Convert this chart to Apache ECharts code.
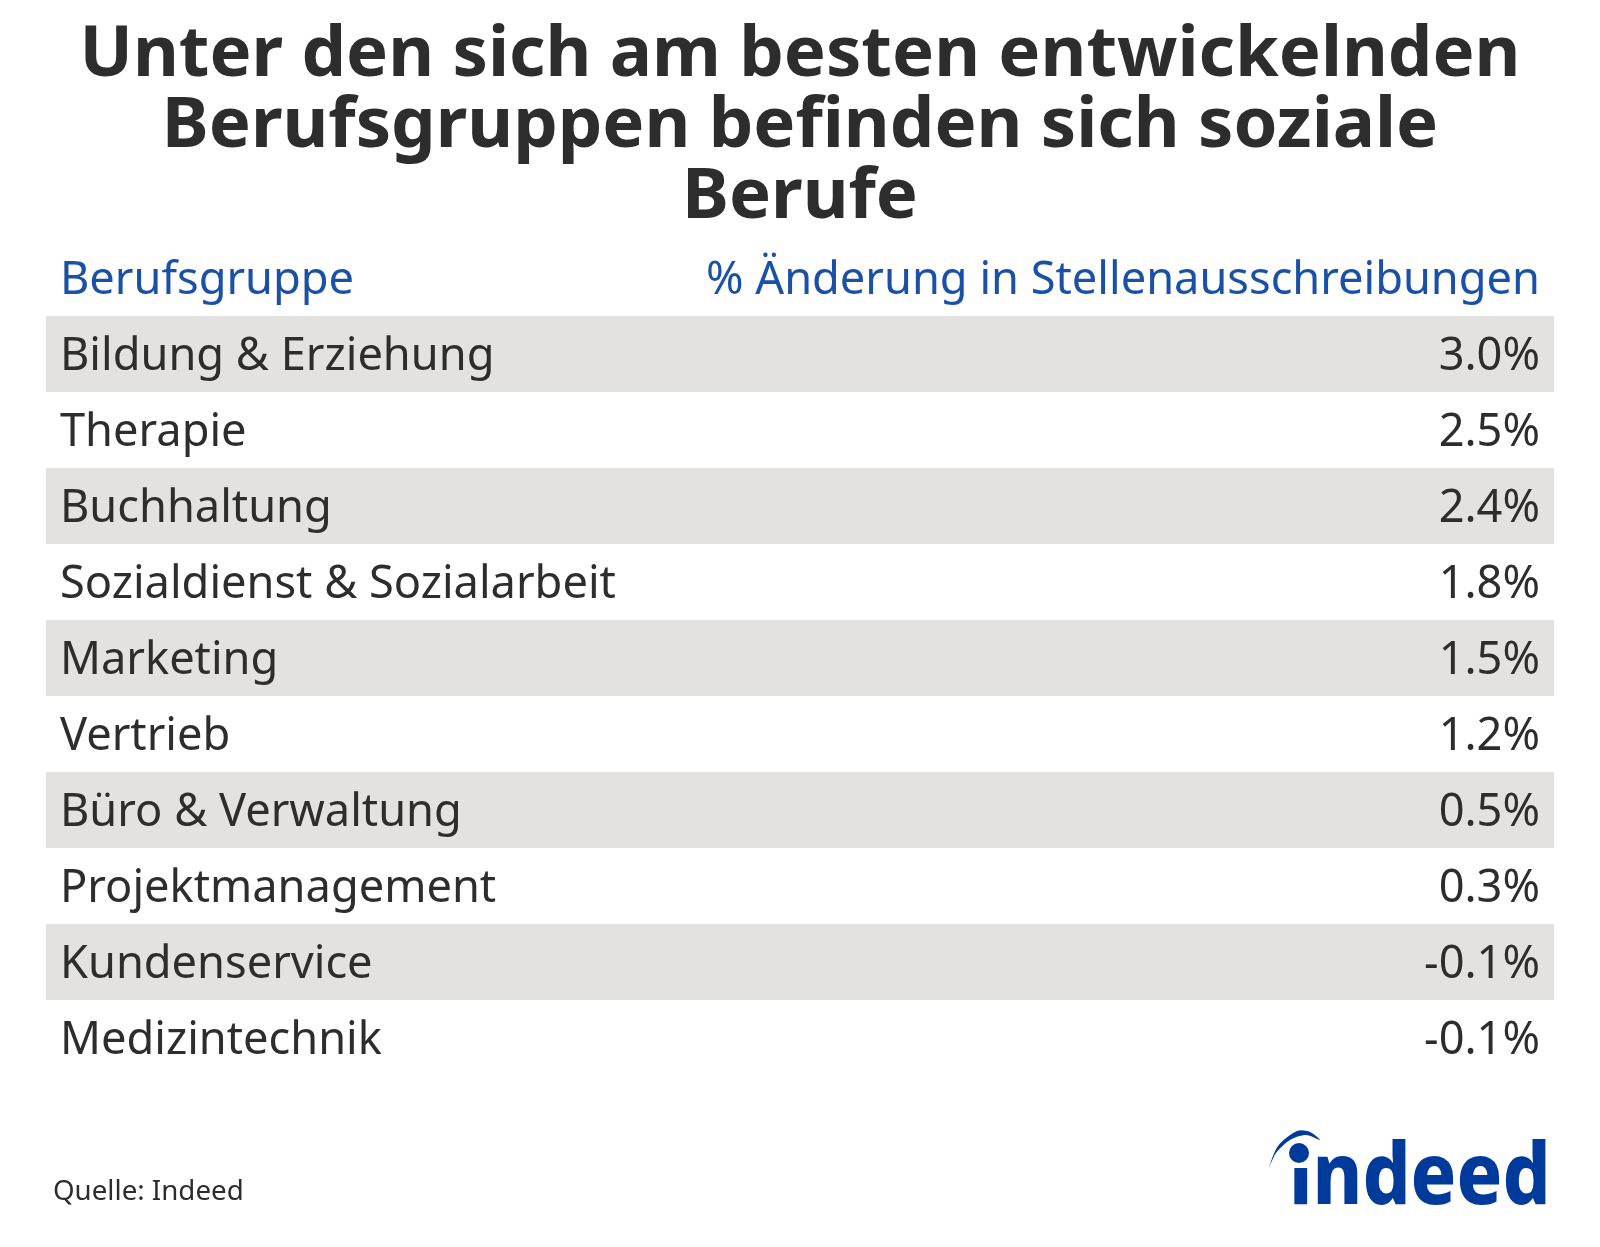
<!DOCTYPE html>
<html>
<head>
<meta charset="utf-8">
<script src="https://cdn.jsdelivr.net/npm/echarts@6/dist/echarts.min.js"></script>
<style>
  html, body { margin: 0; padding: 0; background: #fff; }
  #main { width: 1600px; height: 1247px; }
</style>
</head>
<body>
<div id="main"></div>
<script>
// table content
var titleLines = ['Unter den sich am besten entwickelnden', 'Berufsgruppen befinden sich soziale', 'Berufe'];
var headers = ['Berufsgruppe', '% Änderung in Stellenausschreibungen'];
var categories = ['Bildung & Erziehung', 'Therapie', 'Buchhaltung', 'Sozialdienst & Sozialarbeit', 'Marketing',
  'Vertrieb', 'Büro & Verwaltung', 'Projektmanagement', 'Kundenservice', 'Medizintechnik'];
var changes = [3.0, 2.5, 2.4, 1.8, 1.5, 1.2, 0.5, 0.3, -0.1, -0.1];
var source = 'Quelle: Indeed';
var logoText = 'indeed';

var font = '"Noto Sans", sans-serif';
var dark = '#2d2d2d';
var blue = '#1a50a6';
var logoBlue = '#003a9b';

var chart = echarts.init(document.getElementById('main'));

chart.setOption({
  backgroundColor: '#fff',
  animation: false,
  title: [
    {
      text: titleLines.join('\n'), left: 795, top: 15, textAlign: 'center',
      textStyle: { fontFamily: font, fontSize: 70.6, fontWeight: 700, color: dark, lineHeight: 71 }
    },
    {
      text: headers[0], left: 46, top: 253, padding: [0, 0, 0, 14],
      textStyle: { fontFamily: font, fontSize: 45.2, fontWeight: 400, color: blue, lineHeight: 56 }
    },
    {
      text: headers[1], right: 46, top: 253, padding: [0, 14, 0, 0],
      textStyle: { fontFamily: font, fontSize: 45.2, fontWeight: 400, color: blue, lineHeight: 56 }
    },
    {
      text: source, left: 53, top: 1174, padding: 0,
      textStyle: { fontFamily: font, fontSize: 27.7, fontWeight: 400, color: dark, lineHeight: 36 }
    }
  ],
  grid: { left: 46, right: 46, top: 316, height: 760, containLabel: false },
  xAxis: { type: 'value', min: 0, max: 1, show: false },
  yAxis: {
    type: 'category',
    inverse: true,
    data: categories,
    axisLine: { show: false },
    axisTick: { show: false },
    splitLine: { show: false },
    splitArea: { show: true, areaStyle: { color: ['#e3e2e0', '#ffffff'] } },
    axisLabel: {
      inside: true, margin: 14, interval: 0, verticalAlign: 'top', lineHeight: 6,
      fontFamily: font, fontSize: 45.2, color: dark
    }
  },
  series: [{
    type: 'scatter',
    symbolSize: 0,
    silent: true,
    itemStyle: { opacity: 1 },
    data: changes.map(function (v, i) { return [1, i, v]; }),
    label: {
      show: true, position: 'left', distance: 14, offset: [0, 3],
      fontFamily: font, fontSize: 45.2, color: dark,
      formatter: function (p) { return p.value[2].toFixed(1) + '%'; }
    }
  }],
  graphic: [
    // logo: word, then hide the font's own i dot and draw the bigger one with the swoosh
    {
      type: 'text', x: 1289, y: 1137, scaleX: 0.89,
      style: { text: logoText, fontFamily: font, fontSize: 85, fontWeight: 800, fill: logoBlue }
    },
    { type: 'rect', shape: { x: 1285, y: 1120, width: 24, height: 48 }, style: { fill: '#fff' } },
    { type: 'circle', shape: { cx: 1299, cy: 1153, r: 10 }, style: { fill: logoBlue } },
    {
      type: 'polygon',
      shape: {
        points: [[1269, 1168], [1278, 1146], [1297, 1131], [1310, 1132], [1320, 1140], [1306, 1135], [1290, 1140], [1276, 1153]],
        smooth: 0.3
      },
      style: { fill: logoBlue }
    }
  ]
});
</script>
</body>
</html>
